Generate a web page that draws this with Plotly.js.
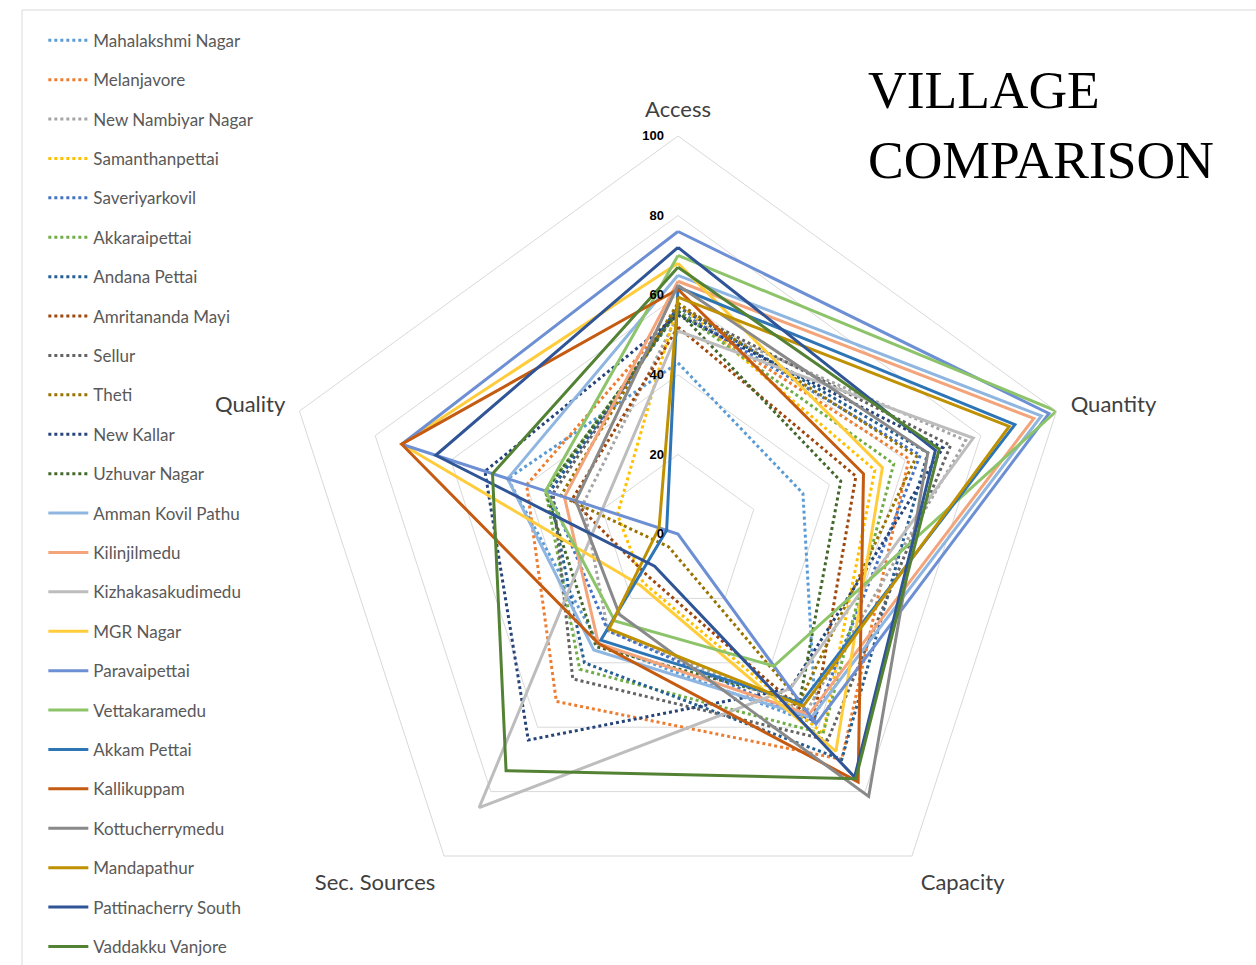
<!DOCTYPE html>
<html>
<head>
<meta charset="utf-8">
<script src="https://cdn.plot.ly/plotly-3.0.1.min.js"></script>
<style>html,body{margin:0;padding:0;background:#fff}#chart{width:1256px;height:965px}</style>
</head>
<body>
<div id="chart"></div>
<script>
// ---- data ----
const categories = ["Access", "Quantity", "Capacity", "Sec. Sources", "Quality"];
const villages = [
  "Mahalakshmi Nagar", "Melanjavore", "New Nambiyar Nagar", "Samanthanpettai", "Saveriyarkovil",
  "Akkaraipettai", "Andana Pettai", "Amritananda Mayi", "Sellur", "Theti", "New Kallar", "Uzhuvar Nagar",
  "Amman Kovil Pathu", "Kilinjilmedu", "Kizhakasakudimedu", "MGR Nagar", "Paravaipettai", "Vettakaramedu",
  "Akkam Pettai", "Kallikuppam", "Kottucherrymedu", "Mandapathur", "Pattinacherry South", "Vaddakku Vanjore"
];
const access     = [43, 56, 55, 58, 56, 56, 57, 52, 57, 58, 55, 56, 65, 63.5, 51, 68, 76, 70, 62, 61.5, 62.5, 59.5, 72, 67];
const quantity   = [33, 61, 76, 52, 64, 57, 66, 47, 72, 63, 70, 43, 96, 94, 78, 54, 98, 100, 89, 49, 66, 87.5, 68, 69];
const capacity   = [59, 70, 55, 62, 58, 62, 70, 58, 64, 52, 48, 52, 57, 56, 48, 67.5, 59, 41, 52.5, 77, 81.5, 53.5, 75.5, 76];
const secSources = [34, 52, 30, 15, 30, 42, 40, 13, 45, 4, 64, 35, 36, 34, 85, 16, 0, 27, 33, 34, 25, 29.5, 10, 73.5];
const quality    = [45, 40, 25, 16, 34, 35, 34, 28, 33, 31, 51, 35, 45, 30, 20, 73, 73, 35, 3, 73, 27, 5, 64, 49];
const radialTicks = [0, 20, 40, 60, 80, 100];

// ---- styles ----
const colors = [
  "#5B9BD5", "#ED7D31", "#A5A5A5", "#FFC000", "#4472C4", "#70AD47",
  "#255E91", "#9E480E", "#636363", "#997300", "#264478", "#43682B",
  "#8FB6E1", "#F4A47A", "#BDBDBD", "#FFCD3C", "#6D8FD3", "#8DC46A",
  "#2E75B6", "#C55A11", "#898989", "#BF9000", "#2F5597", "#548235"
];

const traces = villages.map((name, i) => {
  const r = [access[i], quantity[i], capacity[i], secSources[i], quality[i]];
  return {
    type: "scatterpolar",
    mode: "lines",
    name: name,
    legendgroup: "g" + i,
    r: r.concat([r[0]]),
    theta: categories.concat([categories[0]]),
    line: {color: colors[i], width: 3, dash: i < 12 ? "dot" : "solid"},
    hoverinfo: "name+r+theta"
  };
});

const R = 398, cx = 678, cy = 534, W = 1256, H = 965;

const layout = {
  width: W, height: H,
  margin: {l: 0, r: 0, t: 0, b: 0},
  paper_bgcolor: "#ffffff",
  showlegend: true,
  legend: {
    x: 0.0345, y: 0.9765, xanchor: "left", yanchor: "top",
    font: {family: "Lato, sans-serif", size: 17, color: "#595959"},
    tracegroupgap: 14.3,
    itemwidth: 40,
    bgcolor: "rgba(0,0,0,0)"
  },
  polar: {
    domain: {x: [(cx - R) / W, (cx + R) / W], y: [(H - cy - R) / H, (H - cy + R) / H]},
    gridshape: "linear",
    bgcolor: "#ffffff",
    angularaxis: {
      direction: "clockwise",
      rotation: 90,
      showgrid: false,
      showline: true,
      linecolor: "#d9d9d9",
      linewidth: 1,
      ticks: "outside",
      ticklen: 10,
      tickcolor: "rgba(0,0,0,0)",
      tickfont: {family: "Lato, sans-serif", size: 22, color: "#404040"}
    },
    radialaxis: {
      range: [0, 100],
      tickvals: radialTicks,
      ticktext: radialTicks.map(String),
      angle: 90,
      tickangle: 90,
      side: "counterclockwise",
      showline: false,
      ticks: "outside",
      ticklen: 9,
      tickcolor: "rgba(0,0,0,0)",
      gridcolor: "#d9d9d9",
      gridwidth: 1,
      tickfont: {family: "Liberation Sans, Arial, sans-serif", size: 13, color: "#000000", weight: "bold"}
    }
  },
  annotations: [{
    text: "VILLAGE<br>COMPARISON",
    xref: "paper", yref: "paper",
    x: 866 / W, y: 1 - 58 / H,
    xanchor: "left", yanchor: "top", align: "left",
    showarrow: false,
    font: {family: "Liberation Serif, Times New Roman, serif", size: 53.5, color: "#000000"}
  }],
  shapes: [
    {type: "line", xref: "paper", yref: "paper", x0: 22 / W, x1: 22 / W, y0: 0, y1: 1 - 10 / H, line: {color: "#d9d9d9", width: 1}},
    {type: "line", xref: "paper", yref: "paper", x0: 22 / W, x1: 1, y0: 1 - 10 / H, y1: 1 - 10 / H, line: {color: "#d9d9d9", width: 1}}
  ]
};

Plotly.newPlot("chart", traces, layout, {displayModeBar: false, staticPlot: true});
</script>
</body>
</html>
